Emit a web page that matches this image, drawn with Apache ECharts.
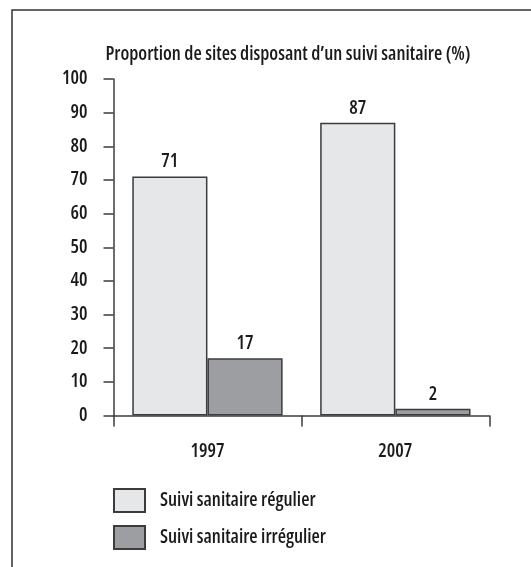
<!DOCTYPE html>
<html>
<head>
<meta charset="utf-8">
<script src="https://cdn.jsdelivr.net/npm/echarts@6/dist/echarts.min.js"></script>
<style>
  html, body { margin: 0; padding: 0; background: #ffffff; }
  #chart { width: 531px; height: 567px; }
</style>
</head>
<body>
<div id="chart"></div>
<script>
// Survey years and shares of sites with health monitoring (%)
const categories = ['1997', '2007'];
const regularValues = [71, 87];
const irregularValues = [17, 2];
const seriesNames = ['Suivi sanitaire régulier', 'Suivi sanitaire irrégulier'];
const yTicks = [0, 10, 20, 30, 40, 50, 60, 70, 80, 90, 100];
const chartTitle = 'Proportion de sites disposant d\u2019un suivi sanitaire (%)';

// Condensed face of the variable Open Sans (font-stretch goes into the canvas font shorthand)
const FONT = "'Open Sans', 'DejaVu Sans', sans-serif";
const STRETCH = 'condensed';
const WEIGHT = 550;
const SIZE = 19;
const INK = '#1a1a1a';
const EDGE = '#3c3c3c';

const txt = (extra) => Object.assign({
  fontFamily: FONT, fontStyle: STRETCH, fontWeight: WEIGHT, fontSize: SIZE, color: INK
}, extra || {});

const chart = echarts.init(document.getElementById('chart'), null, { renderer: 'canvas' });

const labelStyle = Object.assign({ show: true, position: 'top', distance: 5 }, txt());

chart.setOption({
  animation: false,
  backgroundColor: '#ffffff',
  graphic: [{
    type: 'rect',
    silent: true,
    shape: { x: 12, y: 10, width: 700, height: 700 },
    style: { fill: 'none', stroke: '#333333', lineWidth: 1.5 }
  }],
  title: {
    text: chartTitle,
    left: 288,
    top: 45,
    padding: 0,
    textAlign: 'center',
    textStyle: txt()
  },
  legend: {
    orient: 'vertical',
    left: 113,
    top: 488,
    padding: 0,
    itemWidth: 31,
    itemHeight: 23,
    itemGap: 12,
    icon: 'rect',
    data: seriesNames,
    textStyle: txt({ padding: [0, 0, 0, 10] })
  },
  grid: { left: 113.5, right: 41.7, top: 79, bottom: 151.5, containLabel: false },
  xAxis: {
    type: 'category',
    data: categories,
    boundaryGap: true,
    axisLine: { show: true, lineStyle: { color: EDGE, width: 1.5 } },
    axisTick: { show: true, length: 11, alignWithLabel: false, lineStyle: { color: EDGE, width: 1.5 } },
    axisLabel: txt({ margin: 27 }),
    splitLine: { show: false }
  },
  yAxis: {
    type: 'value',
    min: yTicks[0],
    max: yTicks[yTicks.length - 1],
    interval: yTicks[1] - yTicks[0],
    axisLine: { show: true, lineStyle: { color: EDGE, width: 1.5 } },
    axisTick: { show: true, length: 10, inside: false, lineStyle: { color: EDGE, width: 1.5 } },
    axisLabel: txt({ margin: 26 }),
    splitLine: { show: false }
  },
  series: [
    {
      name: seriesNames[0],
      type: 'bar',
      data: regularValues,
      barGap: '0%',
      barCategoryGap: '20%',
      itemStyle: { color: '#e6e7e9', borderColor: EDGE, borderWidth: 1.5 },
      label: labelStyle
    },
    {
      name: seriesNames[1],
      type: 'bar',
      data: irregularValues,
      barGap: '0%',
      barCategoryGap: '20%',
      itemStyle: { color: '#9d9ea2', borderColor: EDGE, borderWidth: 1.5 },
      label: labelStyle
    }
  ]
});
</script>
</body>
</html>
